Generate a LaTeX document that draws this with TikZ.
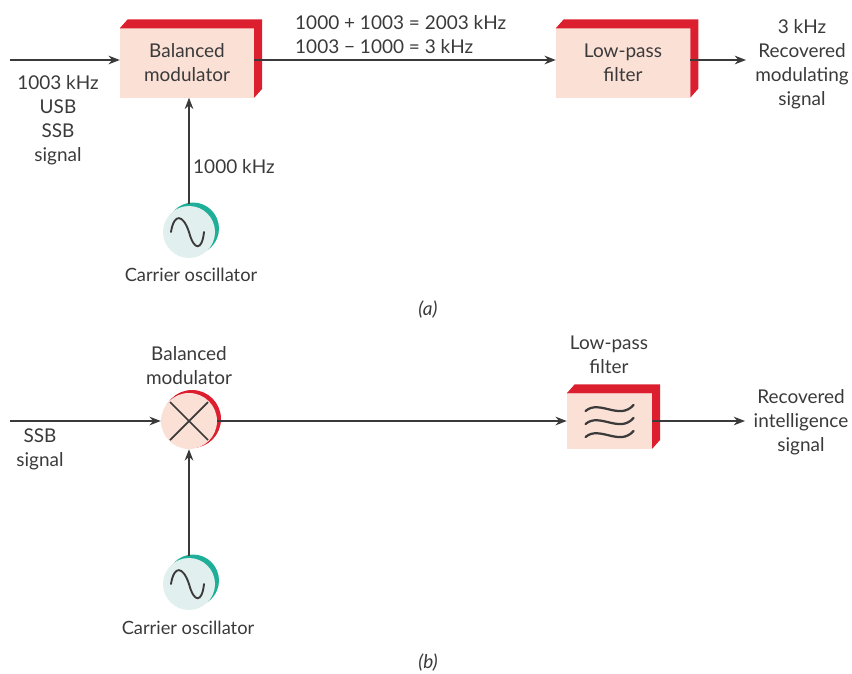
\documentclass[tikz,border=0pt]{standalone}
\usepackage{fontspec}
\setmainfont{Lato}
\usepackage{xcolor}
\usetikzlibrary{arrows.meta, positioning, calc}
\definecolor{facecol}{HTML}{FBE0D6}
\definecolor{redcol}{HTML}{DC1F2E}
\definecolor{tealcol}{HTML}{1FAE98}
\definecolor{oscface}{HTML}{E1F0EE}
\definecolor{inkcol}{HTML}{3A3A3A}
\newcommand{\redside}[1]{
  \fill[redcol] (#1.north west) -- ++(8,-9) -- ($(#1.north east)+(8,-9)$) -- ($(#1.south east)+(8,-9)$) -- (#1.south east) -- (#1.north east) -- cycle;
}
\newcommand{\sinewave}[1]{
  \draw[line width=1.6pt, inkcol, line cap=round] ($(#1.center)+(-18,0)$) .. controls ($(#1.center)+(-15,-19)$) and ($(#1.center)+(-6,-18)$) .. (#1.center) .. controls ($(#1.center)+(5,19)$) and ($(#1.center)+(13,19)$) .. ($(#1.center)+(15,0)$);
}
\newcommand{\filterwave}[1]{
  \draw[line width=1.9pt, inkcol, line cap=round] ($(#1)+(-24,3)$) .. controls ($(#1)+(-10,-9)$) and ($(#1)+(10,13)$) .. ($(#1)+(24,-3)$);
}
\begin{document}
\begin{tikzpicture}[
  x=0.03cm, y=-0.03cm,
  blockbox/.style={rectangle, fill=facecol, align=center, inner sep=0pt},
  oscbox/.style={circle, fill=oscface, minimum size=1.56cm, inner sep=0pt},
  mixbox/.style={circle, fill=facecol, minimum size=1.68cm, inner sep=0pt},
  lbl/.style={font=\fontsize{16.2pt}{20.6pt}\selectfont, text=inkcol, align=center, inner sep=0pt},
  osclbl/.style={font=\fontsize{15.6pt}{20.6pt}\selectfont, text=inkcol, inner sep=0pt},
  arr/.style={-{Stealth[length=3.4mm, width=2.6mm]}, line width=1pt, inkcol}
]
\useasboundingbox (0,0) rectangle (852,673);

\node[blockbox, minimum width=4.02cm, minimum height=2.07cm, lbl] (modA) at (187,63) {Balanced\\modulator};
\redside{modA}
\node[blockbox, minimum width=4.02cm, minimum height=2.07cm, lbl] (lpfA) at (623,63) {Low-pass\\filter};
\redside{lpfA}
\fill[tealcol] (193,228.5) circle (26);
\node[oscbox] (oscA) at (189,232) {};
\sinewave{oscA}
\coordinate (inA) at (10,60);
\coordinate (outA) at (746,60);
\draw[arr] (inA) -- (inA -| modA.west);
\draw[arr] (modA.east |- inA) -- (lpfA.west |- inA);
\draw[arr] (lpfA.east |- inA) -- (outA);
\draw[arr] (oscA.north) ++(0,-2) -- (oscA.north |- modA.south);
\node[lbl] (inlblA) at (58,120) {1003 kHz\\USB\\SSB\\signal};
\node[lbl, anchor=west] (sumlbl) at (295,23) {1000 + 1003 = 2003 kHz};
\node[lbl, anchor=west] (diflbl) at (295,47) {1003 − 1000 = 3 kHz};
\node[lbl] (outlblA) at (802,64) {3 kHz\\Recovered\\modulating\\signal};
\node[lbl, anchor=west] (freqlbl) at (193,167) {1000 kHz};
\node[osclbl] (osclblA) at (191,275) {Carrier oscillator};
\node[lbl] (capA) at (428,310) {\itshape (a)};

\fill[redcol] (192,419) circle (29);
\node[mixbox] (modB) at (189,421) {};
\draw[line width=1.5pt, inkcol] ($(modB.center)+(-19,-19)$) -- ($(modB.center)+(19,19)$);
\draw[line width=1.5pt, inkcol] ($(modB.center)+(-19,19)$) -- ($(modB.center)+(19,-19)$);
\node[blockbox, minimum width=2.55cm, minimum height=1.65cm] (lpfB) at (609.5,421) {};
\redside{lpfB}
\filterwave{$(lpfB.center)+(0,-13)$}
\filterwave{$(lpfB.center)+(0,0)$}
\filterwave{$(lpfB.center)+(0,13)$}
\fill[tealcol] (193,580.5) circle (26);
\node[oscbox] (oscB) at (189,584) {};
\sinewave{oscB}
\coordinate (inB) at (10,421);
\coordinate (outB) at (745,421);
\draw[arr] (inB) -- (modB.west);
\draw[arr] (modB.east) -- (lpfB.west);
\draw[arr] (lpfB.east) -- (outB);
\draw[arr] (oscB.north) ++(0,-2) -- (modB.south);
\node[lbl] (modlblB) at (189,366) {Balanced\\modulator};
\node[lbl] (lpflblB) at (609,355) {Low-pass\\filter};
\node[lbl] (inlblB) at (40,449) {SSB\\signal};
\node[lbl] (outlblB) at (801,422) {Recovered\\intelligence\\signal};
\node[osclbl] (osclblB) at (188,628) {Carrier oscillator};
\node[lbl] (capB) at (428,663) {\itshape (b)};
\end{tikzpicture}
\end{document}
